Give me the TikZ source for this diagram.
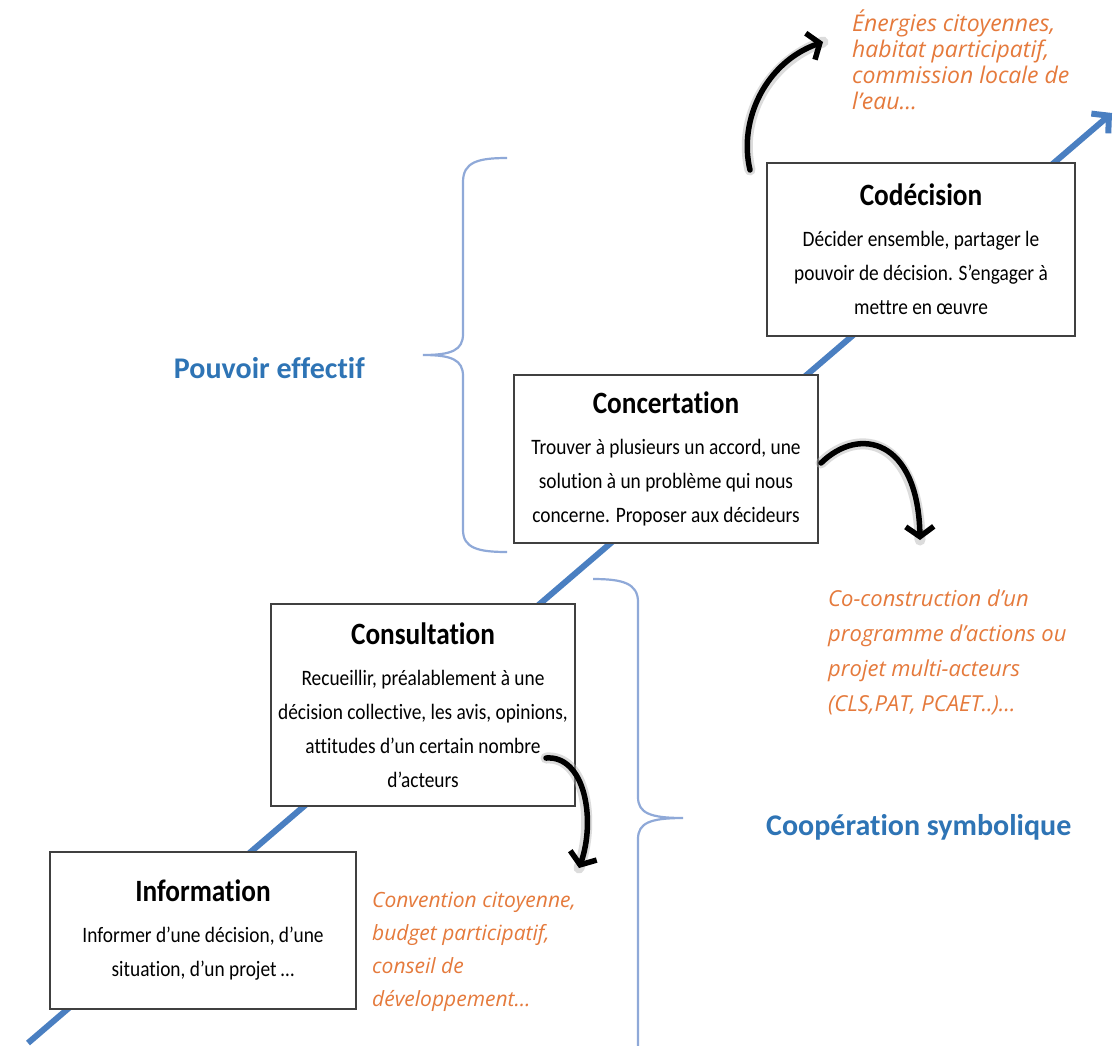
\documentclass[tikz,border=0pt]{standalone}
\usepackage{fontspec}
\setmainfont{Carlito}[FakeStretch=0.88, Ligatures=NoCommon]
\newfontfamily\orfont{Open Sans}
\newfontfamily\lblfont{Carlito}[Ligatures=NoCommon]
\usetikzlibrary{arrows.meta}
\definecolor{lineblue}{HTML}{4A7FC1}
\definecolor{lblblue}{HTML}{2E74B5}
\definecolor{bracecol}{HTML}{8FA9D8}
\definecolor{orangetxt}{HTML}{E57A3C}
\definecolor{boxborder}{HTML}{404040}
\tikzset{
  mainline/.style={line width=6pt, lineblue, -{Straight Barb[length=12pt,width=26pt]}},
  stepbox/.style={draw=boxborder, line width=2pt, fill=white, align=center, inner sep=0pt,
    font=\fontsize{22}{34}\selectfont},
  bracestyle/.style={draw=bracecol, line width=2.2pt},
  lbl/.style={text=lblblue, font=\lblfont\bfseries\fontsize{30}{34}\selectfont, inner sep=0pt},
  example/.style={text=orangetxt, align=left, inner sep=0pt},
  curvearrow/.style={line width=5.5pt, black, line cap=round, -{Straight Barb[length=10pt,width=28pt]}},
  glow/.style={line width=11pt, gray!60, opacity=0.45, line cap=round}
}
\newcommand{\boxtitle}[1]{{\fontsize{31}{34}\selectfont\bfseries #1}\\[7pt]}
\begin{document}
\begin{tikzpicture}[x=1pt,y=-1pt]
\useasboundingbox[fill=white] (0,0) rectangle (1115,1045);

% main rising line
\coordinate (lstart) at (28,1043);
\coordinate (lend) at (1112,113);
\draw[mainline] (lstart) -- (lend);

% steps
\node[stepbox, minimum width=306pt, minimum height=157pt] (info) at (203,930)
  {\boxtitle{Information}Informer d’une décision, d’une\\situation, d’un projet …};
\node[stepbox, minimum width=304pt, minimum height=202pt] (consult) at (423,705)
  {\boxtitle{Consultation}Recueillir, préalablement à une\\décision collective, les avis, opinions,\\attitudes d’un certain nombre\\d’acteurs};
\node[stepbox, minimum width=304pt, minimum height=168pt] (concert) at (666,459)
  {\boxtitle{Concertation}Trouver à plusieurs un accord, une\\solution à un problème qui nous\\concerne. Proposer aux décideurs};
\node[stepbox, minimum width=308pt, minimum height=173pt] (codec) at (921,249)
  {\boxtitle{Codécision}Décider ensemble, partager le\\pouvoir de décision. S’engager à\\mettre en œuvre};

% braces
\draw[bracestyle] (507,158) .. controls (478,158) and (463,162) .. (463,182) -- (463,334)
  .. controls (463,350) and (452,355) .. (423,355)
  .. controls (452,355) and (463,360) .. (463,376) -- (463,530)
  .. controls (463,548) and (478,552) .. (507,552);
\draw[bracestyle] (593,579) .. controls (622,579) and (638,583) .. (638,602) -- (638,797)
  .. controls (638,813) and (650,818) .. (683,818)
  .. controls (650,818) and (638,823) .. (638,839) -- (638,1060);

% labels
\node[lbl, anchor=east] (pouvoir) at (365,368) {Pouvoir effectif};
\node[lbl, anchor=west] (coop) at (766,827) {Coopération symbolique};

% examples
\node[example, anchor=west, font=\orfont\itshape\fontsize{23}{26}\selectfont] (ex1) at (852,60)
  {Énergies citoyennes,\\habitat participatif,\\commission locale de\\l’eau…};
\node[example, anchor=west, font=\orfont\itshape\fontsize{22}{35}\selectfont] (ex2) at (828,652)
  {Co-construction d’un\\programme d’actions ou\\projet multi-acteurs\\(CLS,PAT, PCAET..)…};
\node[example, anchor=west, font=\orfont\itshape\fontsize{21}{33}\selectfont] (ex3) at (372,952)
  {Convention citoyenne,\\budget participatif,\\conseil de\\développement…};

% curved arrows
\coordinate (a1s) at (750,170); \coordinate (a1e) at (823,42);
\coordinate (a2s) at (821,463); \coordinate (a2e) at (920,540);
\coordinate (a3s) at (546,758); \coordinate (a3e) at (579,868);
\draw[glow] (a1s) .. controls (738,120) and (766,62) .. (a1e);
\draw[glow] (a2s) .. controls (860,425) and (918,440) .. (a2e);
\draw[glow] (a3s) .. controls (585,755) and (596,820) .. (a3e);
\draw[curvearrow] (a1s) .. controls (738,120) and (766,62) .. (a1e);
\draw[curvearrow] (a2s) .. controls (860,425) and (918,440) .. (a2e);
\draw[curvearrow] (a3s) .. controls (585,755) and (596,820) .. (a3e);
\end{tikzpicture}
\end{document}
